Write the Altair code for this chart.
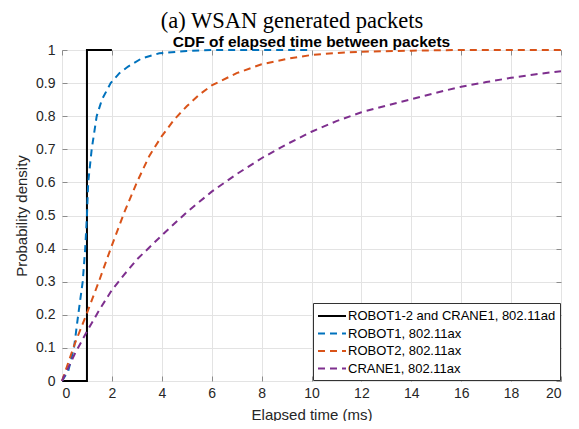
import altair as alt
import pandas as pd

series_names = [
    "ROBOT1-2 and CRANE1, 802.11ad",
    "ROBOT1, 802.11ax",
    "ROBOT2, 802.11ax",
    "CRANE1, 802.11ax",
]
series_colors = ["#000000", "#0072BD", "#D95319", "#7E2F8E"]
series_dashes = [[1, 0], [7, 5], [7, 5], [7, 5]]

ad_t = [0, 1, 1, 2]
ad_p = [0, 0, 1, 1]

robot1_t = [0, 0.25, 0.48, 0.65, 0.83, 0.93, 1.0, 1.05, 1.19, 1.39, 1.6, 1.95, 2.3, 2.65, 3.2, 3.9, 5.0, 6.0, 10.0]
robot1_p = [0, 0.03, 0.10, 0.20, 0.30, 0.40, 0.50, 0.60, 0.70, 0.80, 0.85, 0.90, 0.93, 0.95, 0.975, 0.99, 0.997, 1.0, 1.0]

robot2_t = [0, 0.5, 1.0, 1.5, 2.0, 2.5, 3.0, 3.5, 4.0, 4.5, 5.0, 5.5, 6.0, 7.0, 8.0, 9.0, 10.0, 11.0, 12.0, 14.0, 16.0, 20.0]
robot2_p = [0, 0.11, 0.205, 0.305, 0.41, 0.51, 0.60, 0.68, 0.74, 0.79, 0.83, 0.865, 0.893, 0.93, 0.957, 0.973, 0.985, 0.991, 0.995, 0.998, 1.0, 1.0]

crane1_t = [0, 0.5, 1.0, 1.5, 2.0, 2.5, 3.0, 4.0, 5.0, 6.0, 7.0, 8.0, 9.0, 10.0, 11.0, 12.0, 13.0, 14.0, 15.0, 16.0, 17.0, 18.0, 19.0, 20.0]
crane1_p = [0, 0.08, 0.15, 0.215, 0.275, 0.322, 0.367, 0.44, 0.51, 0.572, 0.625, 0.673, 0.715, 0.753, 0.785, 0.812, 0.832, 0.851, 0.871, 0.889, 0.903, 0.916, 0.927, 0.936]

x_ticks = list(range(0, 21, 2))
y_ticks = [round(i * 0.1, 1) for i in range(11)]

main_title = "(a) WSAN generated packets"
plot_title = "CDF of elapsed time between packets"
x_title = "Elapsed time (ms)"
y_title = "Probability density"

rows = []
for name, ts, ps in zip(series_names, [ad_t, robot1_t, robot2_t, crane1_t], [ad_p, robot1_p, robot2_p, crane1_p]):
    for i, (t, p) in enumerate(zip(ts, ps)):
        rows.append({"series": name, "t": t, "p": p, "ord": i})
df = pd.DataFrame(rows)

FONT = "Liberation Sans"
W, H = 499, 331

x_scale = alt.Scale(domain=[0, 20], nice=False, zero=False)
y_scale = alt.Scale(domain=[0, 1], nice=False, zero=False)

legend = alt.Legend(
    title=None,
    orient="none",
    legendX=251,
    legendY=253,
    symbolType="M-1.75,0H1.75",
    symbolSize=256,
    symbolStrokeWidth=2,
    symbolFillColor="transparent",
    symbolOffset=6,
    labelFont=FONT,
    labelFontSize=13,
    labelColor="#000000",
    labelLimit=400,
    labelOffset=7,
    strokeColor="#333333",
    fillColor="#ffffff",
    padding=4,
    rowPadding=1.5,
    cornerRadius=0,
)

color_enc = alt.Color("series:N", scale=alt.Scale(domain=series_names, range=series_colors), legend=legend)
dash_enc = alt.StrokeDash("series:N", scale=alt.Scale(domain=series_names, range=series_dashes), legend=legend)

x_axis = alt.Axis(
    values=x_ticks, grid=True, gridColor="#e3e3e3", domain=False,
    tickSize=5, offset=-5, tickColor="#8c8c8c",
    labelFont=FONT, labelFontSize=14, labelColor="#262626", labelPadding=5,
    title=x_title, titleFont=FONT, titleFontSize=15, titleFontWeight="normal",
    titleColor="#262626", titlePadding=7,
)
y_axis = alt.Axis(
    values=y_ticks, grid=True, gridColor="#e3e3e3", domain=False,
    tickSize=5, offset=-5, tickColor="#8c8c8c", format="~g",
    labelFont=FONT, labelFontSize=14, labelColor="#262626", labelPadding=7,
    title=y_title, titleFont=FONT, titleFontSize=15, titleFontWeight="normal",
    titleColor="#262626", titlePadding=6,
)

frame = alt.Chart(df).mark_line(opacity=0).encode(
    x=alt.X("t:Q", scale=x_scale, axis=alt.Axis(orient="top", values=x_ticks, labels=False, grid=False,
                                                domain=False, tickSize=5, offset=-5, tickColor="#8c8c8c", title=None)),
    y=alt.Y("p:Q", scale=y_scale, axis=alt.Axis(orient="right", values=y_ticks, labels=False, grid=False,
                                                domain=False, tickSize=5, offset=-5, tickColor="#8c8c8c", title=None)),
    detail="series:N",
)

layers = []
for k, name in enumerate(series_names):
    layers.append(
        alt.Chart(df)
        .transform_filter(alt.datum.series == name)
        .mark_line(strokeWidth=2, clip=False)
        .encode(
            x=alt.X("t:Q", scale=x_scale, axis=x_axis if k == 0 else None),
            y=alt.Y("p:Q", scale=y_scale, axis=y_axis if k == 0 else None),
            color=color_enc,
            strokeDash=dash_enc,
            order=alt.Order("ord:Q"),
        )
    )

titles_df = pd.DataFrame({"label": [main_title, plot_title]})

main_title_text = alt.Chart(titles_df).transform_filter(alt.datum.label == main_title).mark_text(
    font="Liberation Serif", fontSize=22.5, baseline="alphabetic", align="center", color="#000000"
).encode(x=alt.value(230), y=alt.value(-22), text="label:N")

plot_title_text = alt.Chart(titles_df).transform_filter(alt.datum.label == plot_title).mark_text(
    font=FONT, fontSize=15.5, fontWeight="bold", baseline="alphabetic", align="center", color="#000000"
).encode(x=alt.value(W / 2), y=alt.value(-3), text="label:N")

chart = (
    alt.layer(layers[0], frame, *layers[1:], main_title_text, plot_title_text)
    .resolve_axis(x="independent", y="independent")
    .properties(
        width=W,
        height=H,
        autosize=alt.AutoSizeParams(type="none"),
        padding={"left": 54, "top": 42, "right": 10, "bottom": 40},
    )
    .configure_view(stroke="#8c8c8c", strokeWidth=1)
    .configure(background="#ffffff")
)

chart.save("out.html", embed_options={"renderer": "svg", "actions": False})
